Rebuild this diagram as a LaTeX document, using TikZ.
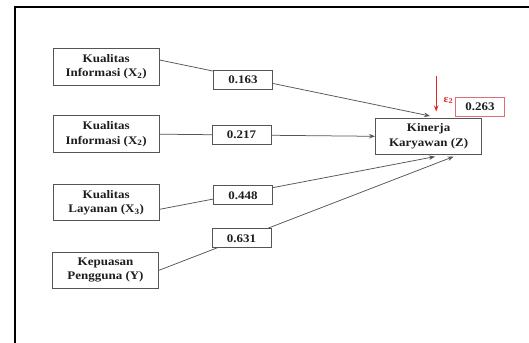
\documentclass[tikz,border=0pt]{standalone}
\usepackage{fontspec}
\setmainfont{Liberation Serif}[FakeStretch=1.12]
\usetikzlibrary{arrows.meta,calc}
\definecolor{boxline}{RGB}{85,85,85}
\definecolor{txt}{RGB}{30,30,30}
\definecolor{errred}{RGB}{225,40,40}
\definecolor{pinkline}{RGB}{220,110,120}
\tikzset{
  varbox/.style={draw=boxline, line width=0.9pt, fill=white, minimum width=106pt, minimum height=36.7pt, inner sep=0pt, align=center, text=txt, font=\fontsize{11.6}{14.3}\selectfont\bfseries},
  coefbox/.style={draw=boxline, line width=0.9pt, fill=white, minimum width=59pt, minimum height=19pt, inner sep=0pt, text=txt, font=\fontsize{11.6}{14.3}\selectfont\bfseries},
  path/.style={draw=boxline, line width=0.75pt, -{Stealth[length=6pt,width=4.5pt]}},
}
\begin{document}
\begin{tikzpicture}[x=1pt,y=-1pt]
\useasboundingbox (0,0) rectangle (529,342);
\fill[white] (0,0) rectangle (529,342);
\draw[black, line width=2.2pt] (15,345) -- (15,7) -- (532,7);

\node[varbox] (b1) at (106.2,66.7) {Kualitas\\Informasi (X\textsubscript{2})};
\node[varbox] (b2) at (106.2,134.2) {Kualitas\\Informasi (X\textsubscript{2})};
\node[varbox] (b3) at (106.2,202.5) {Kualitas\\Layanan (X\textsubscript{3})};
\node[varbox] (b4) at (105.5,270.3) {Kepuasan\\Pengguna (Y)};
\node[varbox, minimum width=106.3pt] (kin) at (428.6,136.3) {Kinerja\\Karyawan (Z)};

\draw[path] ([yshift=6.7pt]b1.east) -- ([xshift=1.4pt,yshift=1.5pt]kin.north);
\draw[path] (b2.east) -- (kin.west);
\draw[path] ([yshift=-6.8pt]b3.east) -- ([xshift=6.4pt,yshift=-1.5pt]kin.south);
\draw[path] (b4.east) -- ([xshift=25pt,yshift=-1.5pt]kin.south);

\node[coefbox] (l1) at (243.1,79.7) {0.163};
\node[coefbox] (l2) at (241.5,134.5) {0.217};
\node[coefbox] (l3) at (243.1,195.3) {0.448};
\node[coefbox] (l4) at (241.5,238.3) {0.631};

\coordinate (e) at (436.2,76);
\draw[errred, line width=0.8pt, -{Stealth[length=6pt,width=4.5pt]}, shorten >=6pt] (e) -- (e |- kin.north);
\node[text=errred, font=\fontsize{10.5}{11}\selectfont\bfseries, inner sep=0pt] (eps) at (448.5,100.5) {ε\textsubscript{2}};
\node[coefbox, draw=pinkline, minimum width=49pt, minimum height=19pt] (r2) at (480,106.5) {0.263};
\end{tikzpicture}
\end{document}
